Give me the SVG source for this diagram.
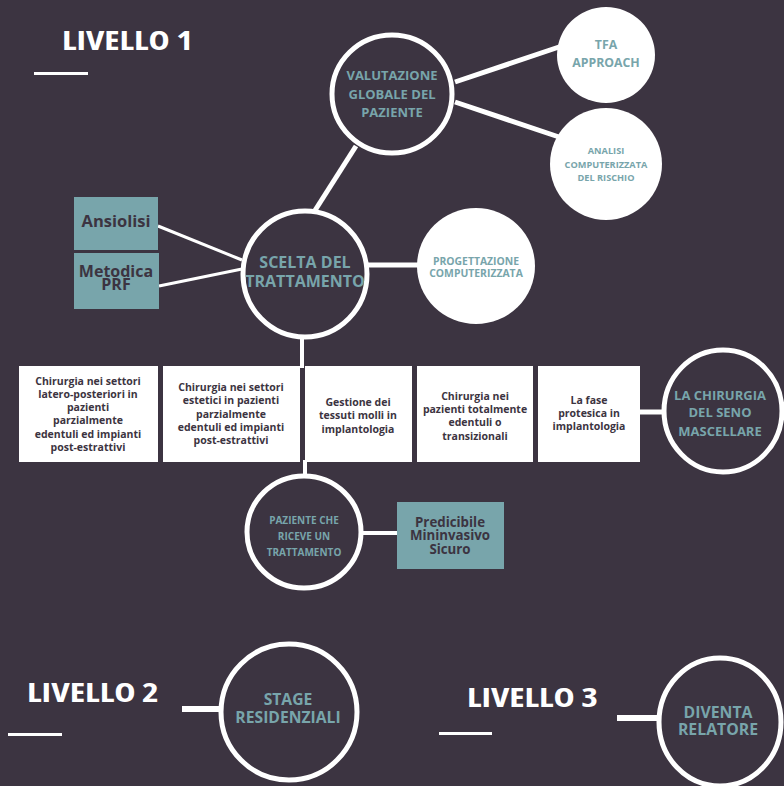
<svg xmlns="http://www.w3.org/2000/svg" width="784" height="786" viewBox="0 0 784 786">
<style>
.t{font-family:"Open Sans","Noto Sans",sans-serif;font-weight:bold;text-anchor:middle}
.h{font-family:"Open Sans","Noto Sans",sans-serif;font-weight:bold;font-stretch:condensed;fill:#ffffff;font-size:27px}
.teal{fill:#78a5ab}
.dark{fill:#3c3441}
.ring{fill:#3c3441;stroke:#ffffff;stroke-width:5}
.solid{fill:#ffffff}
.box{fill:#ffffff}
.tbox{fill:#78a5ab}
.c line{stroke:#ffffff}
</style>
<rect width="784" height="786" fill="#3c3441"/>
<g id="titles">
<text class="h" x="62" y="50" textLength="131" lengthAdjust="spacingAndGlyphs">LIVELLO 1</text>
<rect x="34" y="72" width="54" height="3" fill="#fff"/>
<text class="h" x="27" y="702" textLength="132" lengthAdjust="spacingAndGlyphs">LIVELLO 2</text>
<rect x="8" y="733" width="54" height="3" fill="#fff"/>
<text class="h" x="467" y="707" textLength="131" lengthAdjust="spacingAndGlyphs">LIVELLO 3</text>
<rect x="439" y="732" width="53" height="3" fill="#fff"/>
</g>
<g class="c" id="connectors">
<line x1="455" y1="82" x2="562" y2="46" stroke-width="5"/>
<line x1="455" y1="102" x2="562" y2="138" stroke-width="5"/>
<line x1="356" y1="146" x2="314" y2="212" stroke-width="5"/>
<line x1="158" y1="226" x2="242" y2="260" stroke-width="3"/>
<line x1="159" y1="286" x2="242" y2="269" stroke-width="3"/>
<line x1="368" y1="265" x2="420" y2="265" stroke-width="5"/>
<line x1="302" y1="338" x2="302" y2="368" stroke-width="4"/>
<line x1="305" y1="460" x2="305" y2="478" stroke-width="4"/>
<line x1="638" y1="412" x2="664" y2="412" stroke-width="5"/>
<line x1="361" y1="533" x2="399" y2="533" stroke-width="4"/>
<line x1="182" y1="709" x2="221" y2="709" stroke-width="6"/>
<line x1="617" y1="718" x2="657" y2="718" stroke-width="6"/>
</g>
<g id="valutazione">
<ellipse class="ring" cx="392" cy="94" rx="60" ry="59"/>
<text class="t teal" font-size="13"><tspan x="392" y="80">VALUTAZIONE</tspan><tspan x="392" y="99">GLOBALE DEL</tspan><tspan x="392" y="117">PAZIENTE</tspan></text>
</g>
<g id="tfa">
<ellipse class="solid" cx="606" cy="55" rx="49" ry="48"/>
<text class="t teal" font-size="12.3"><tspan x="606" y="49">TFA</tspan><tspan x="606" y="67">APPROACH</tspan></text>
</g>
<g id="analisi">
<ellipse class="solid" cx="606" cy="164" rx="56" ry="56"/>
<text class="t teal" font-size="9.2"><tspan x="606" y="154">ANALISI</tspan><tspan x="606" y="168">COMPUTERIZZATA</tspan><tspan x="606" y="181">DEL RISCHIO</tspan></text>
</g>
<g id="scelta">
<ellipse class="ring" cx="305" cy="274" rx="62" ry="63" stroke-width="6"/>
<text class="t teal" font-size="16"><tspan x="305" y="268">SCELTA DEL</tspan><tspan x="305" y="287">TRATTAMENTO</tspan></text>
</g>
<g id="progettazione">
<ellipse class="solid" cx="476" cy="266" rx="59" ry="58"/>
<text class="t teal" font-size="10.4"><tspan x="476" y="265">PROGETTAZIONE</tspan><tspan x="476" y="277">COMPUTERIZZATA</tspan></text>
</g>
<g id="ansiolisi">
<rect class="tbox" x="74" y="197" width="84" height="53"/>
<text class="t dark" font-size="16.5" x="116" y="227">Ansiolisi</text>
</g>
<g id="prf">
<rect class="tbox" x="74" y="253" width="85" height="56"/>
<text class="t dark" font-size="16"><tspan x="116" y="277">Metodica</tspan><tspan x="116" y="290">PRF</tspan></text>
</g>
<g id="box1">
<rect class="box" x="19" y="366" width="139" height="96"/>
<text class="t dark" font-size="10.5"><tspan x="88" y="385">Chirurgia nei settori</tspan><tspan x="88" y="398">latero-posteriori in</tspan><tspan x="88" y="411">pazienti</tspan><tspan x="88" y="424">parzialmente</tspan><tspan x="88" y="438">edentuli ed impianti</tspan><tspan x="88" y="451">post-estrattivi</tspan></text>
</g>
<g id="box2">
<rect class="box" x="163" y="366" width="137" height="96"/>
<text class="t dark" font-size="10.5"><tspan x="231" y="391">Chirurgia nei settori</tspan><tspan x="231" y="404">estetici in pazienti</tspan><tspan x="231" y="418">parzialmente</tspan><tspan x="231" y="431">edentuli ed impianti</tspan><tspan x="231" y="444">post-estrattivi</tspan></text>
</g>
<g id="box3">
<rect class="box" x="305" y="366" width="107" height="96"/>
<text class="t dark" font-size="10.5"><tspan x="358" y="406">Gestione dei</tspan><tspan x="358" y="419">tessuti molli in</tspan><tspan x="358" y="433">implantologia</tspan></text>
</g>
<g id="box4">
<rect class="box" x="417" y="366" width="116" height="96"/>
<text class="t dark" font-size="10.5"><tspan x="475" y="400">Chirurgia nei</tspan><tspan x="475" y="413">pazienti totalmente</tspan><tspan x="475" y="426">edentuli o</tspan><tspan x="475" y="440">transizionali</tspan></text>
</g>
<g id="box5">
<rect class="box" x="538" y="366" width="102" height="96"/>
<text class="t dark" font-size="10.5"><tspan x="589" y="404">La fase</tspan><tspan x="589" y="417">protesica in</tspan><tspan x="589" y="430">implantologia</tspan></text>
</g>
<g id="seno">
<ellipse class="ring" cx="723" cy="411" rx="59" ry="61"/>
<text class="t teal" font-size="13"><tspan x="720" y="400">LA CHIRURGIA</tspan><tspan x="720" y="417">DEL SENO</tspan><tspan x="720" y="436">MASCELLARE</tspan></text>
</g>
<g id="paziente">
<ellipse class="ring" cx="304" cy="532" rx="57" ry="56" stroke-width="6"/>
<text class="t teal" font-size="10"><tspan x="304" y="524">PAZIENTE CHE</tspan><tspan x="304" y="540">RICEVE UN</tspan><tspan x="304" y="556">TRATTAMENTO</tspan></text>
</g>
<g id="predicibile">
<rect class="tbox" x="397" y="502" width="107" height="67"/>
<text class="t dark" font-size="13.3"><tspan x="450" y="527">Predicibile</tspan><tspan x="450" y="540">Mininvasivo</tspan><tspan x="450" y="554">Sicuro</tspan></text>
</g>
<g id="stage">
<ellipse class="ring" cx="289" cy="712" rx="68" ry="68"/>
<text class="t teal" font-size="15.7"><tspan x="288" y="705">STAGE</tspan><tspan x="288" y="723">RESIDENZIALI</tspan></text>
</g>
<g id="relatore">
<ellipse class="ring" cx="720" cy="722" rx="61" ry="64"/>
<text class="t teal" font-size="15.8"><tspan x="718" y="718">DIVENTA</tspan><tspan x="718" y="735">RELATORE</tspan></text>
</g>
</svg>
